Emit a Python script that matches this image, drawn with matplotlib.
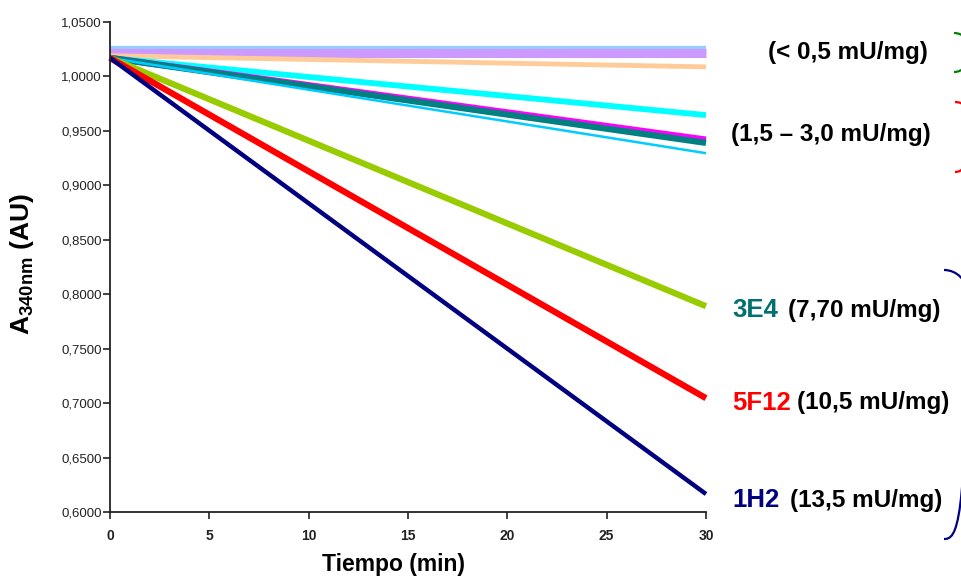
import matplotlib
matplotlib.use("Agg")
import matplotlib.pyplot as plt
from matplotlib.path import Path
from matplotlib.patches import PathPatch
from matplotlib.ticker import FuncFormatter, MultipleLocator

plt.rcParams['font.family'] = ['Liberation Sans', 'DejaVu Sans']
plt.rcParams['mathtext.fontset'] = 'custom'
plt.rcParams['mathtext.rm'] = 'Liberation Sans'
plt.rcParams['mathtext.bf'] = 'Liberation Sans:bold'

# Time span of each kinetic run (min)
time_span = [0, 30]

# Absorbance at 340 nm at the start and end of each run
clones = ["ctl_blue", "ctl_lilac", "ctl_orange", "cyan_x", "magenta",
          "teal", "skyblue", "3E4", "5F12", "1H2"]
a_start = [1.0245, 1.0215, 1.0190, 1.0170, 1.0170,
           1.0170, 1.0170, 1.0170, 1.0170, 1.0170]
a_end = [1.0245, 1.0215, 1.0088, 0.9645, 0.9420,
         0.9390, 0.9295, 0.7890, 0.7045, 0.6165]
colors = ["#99CCFF", "#CC99FF", "#FFCC99", "#00FFFF", "#FF00FF",
          "#008080", "#00CCFF", "#99CC00", "#FF0000", "#000080"]
widths = [6.0, 6.5, 3.5, 4.2, 4.5, 4.5, 1.8, 4.5, 4.5, 3.2]

# Activity annotations
group_labels = ["(< 0,5 mU/mg)", "(1,5 \u2013 3,0 mU/mg)"]
clone_names = ["3E4", "5F12", "1H2"]
clone_colors = ["#007070", "#FF0000", "#000080"]
clone_activity = ["(7,70 mU/mg)", "(10,5 mU/mg)", "(13,5 mU/mg)"]

W, H = 962, 578
fig = plt.figure(figsize=(W / 100, H / 100), dpi=100)
ax = fig.add_axes([110 / W, 1 - 512 / H, (706 - 110) / W, (512 - 22) / H])

for y0, y1, c, lw in zip(a_start, a_end, colors, widths):
    ax.plot(time_span, [y0, y1], color=c, lw=lw, solid_capstyle='butt',
            clip_on=False)

ax.set_xlim(0, 30)
ax.set_ylim(0.6, 1.05)
ax.xaxis.set_major_locator(MultipleLocator(5))
ax.yaxis.set_major_locator(MultipleLocator(0.05))
ax.yaxis.set_major_formatter(FuncFormatter(lambda v, p: f"{v:.4f}".replace(".", ",")))
for s in ("top", "right"):
    ax.spines[s].set_visible(False)
for s in ("left", "bottom"):
    ax.spines[s].set_linewidth(1.3)
    ax.spines[s].set_color("#222222")
ax.tick_params(axis='both', direction='out', length=5, width=1.2,
               colors="#222222")
ax.tick_params(axis='x', pad=7, labelsize=10)
ax.tick_params(axis='y', pad=1, labelsize=9.5)
for lab in ax.get_xticklabels():
    lab.set_fontweight('bold')

fig.text(394 / W, 1 - 565 / H, "Tiempo (min)", ha='center', va='center',
         fontsize=16.5, fontweight='bold')
fig.text(22 / W, 1 - 264 / H, r"$\mathbf{A}_{\mathbf{340nm}}$ (AU)", ha='center',
         va='center', rotation=90, fontsize=19, fontweight='bold')

# Group labels
fig.text(928 / W, 1 - 53 / H, group_labels[0], ha='right', va='center',
         fontsize=17.5, fontweight='bold')
fig.text(931 / W, 1 - 135 / H, group_labels[1], ha='right', va='center',
         fontsize=17.5, fontweight='bold')

# Individual clone labels
ypos = [310, 403, 500]
xact = [788, 797, 790]
for name, col, act, yp, xa in zip(clone_names, clone_colors, clone_activity, ypos, xact):
    fig.text(732 / W, 1 - yp / H, name, ha='left', va='center', fontsize=18.5,
             fontweight='bold', color=col)
    fig.text(xa / W, 1 - yp / H, act, ha='left', va='center', fontsize=17.5,
             fontweight='bold')


def brace(top, bottom, x0, color, r=18):
    # right-hand bracket with rounded corners, in pixel coordinates
    k = 0.5523 * r
    verts = [(x0, top), (x0 + k, top), (x0 + r, top + r - k), (x0 + r, top + r),
             (x0 + r, bottom - r),
             (x0 + r, bottom - r + k), (x0 + k, bottom), (x0, bottom)]
    codes = [Path.MOVETO, Path.CURVE4, Path.CURVE4, Path.CURVE4,
             Path.LINETO, Path.CURVE4, Path.CURVE4, Path.CURVE4]
    verts = [(vx / W, 1 - vy / H) for vx, vy in verts]
    fig.add_artist(PathPatch(Path(verts, codes), fill=False, edgecolor=color,
                             lw=1.6, transform=fig.transFigure, clip_on=False))


brace(33, 72, 954, "#008000", r=16)
brace(102, 172, 955, "#FF0000", r=16)
brace(270, 539, 944, "#000080", r=23)

fig.savefig("out.png", dpi=100)
